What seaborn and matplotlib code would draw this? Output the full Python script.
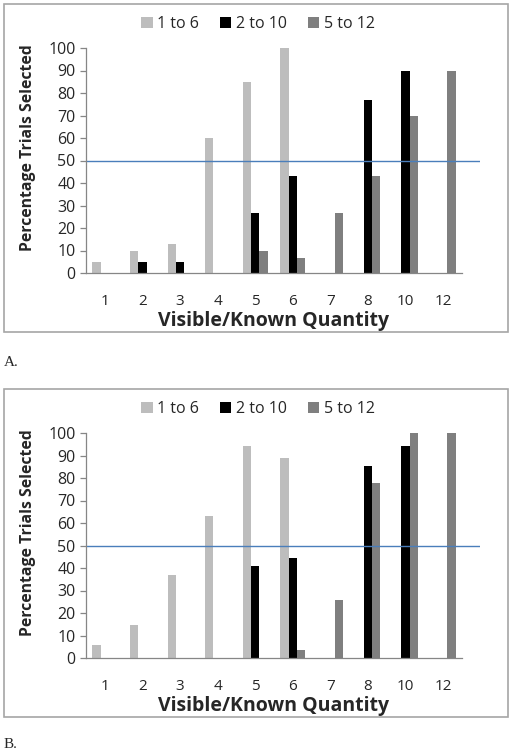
import numpy as np
import pandas as pd
import matplotlib
matplotlib.use("Agg")
import matplotlib.pyplot as plt
from matplotlib.patches import Rectangle
import seaborn as sns

# Quantities on the x axis and the three set-size ranges
quantities = ["1", "2", "3", "4", "5", "6", "7", "8", "10", "12"]
ranges = ["1 to 6", "2 to 10", "5 to 12"]

# Panel A: percentage of trials selected
a_1to6 = [5, 10, 13, 60, 85, 100, 0, 0, 0, 0]
a_2to10 = [0, 5, 5, 0, 26.7, 43.3, 0, 76.7, 90, 0]
a_5to12 = [0, 0, 0, 0, 10, 6.7, 26.7, 43.3, 70, 90]

# Panel B: percentage of trials selected
b_1to6 = [5.6, 14.8, 37, 63, 94.4, 89, 0, 0, 0, 0]
b_2to10 = [0, 0, 0, 0, 40.7, 44.4, 0, 85.2, 94.4, 0]
b_5to12 = [0, 0, 0, 0, 0, 3.7, 25.9, 77.8, 100, 100]

chance = 50
colors = ["#bdbdbd", "#000000", "#7f7f7f"]

W, H = 512, 755
fig = plt.figure(figsize=(W / 100, H / 100), dpi=100)
sns.set_style("white")
plt.rcParams["font.family"] = ["Open Sans", "DejaVu Sans"]


def long_table(series):
    rows = []
    for name, vals in zip(ranges, series):
        for q, v in zip(quantities, vals):
            rows.append({"qty": q, "pct": v, "range": name})
    return pd.DataFrame(rows)


def draw_panel(series, box_top, box_bottom, ax_top, ax_bottom, letter, letter_y):
    # outer box like the pasted Excel chart
    fig.patches.append(Rectangle((4 / W, 1 - box_bottom / H), 504 / W,
                                 (box_bottom - box_top) / H,
                                 transform=fig.transFigure, fill=False,
                                 edgecolor="#a6a6a6", linewidth=1.2))
    ax = fig.add_axes([86 / W, 1 - ax_bottom / H, 394 / W, (ax_bottom - ax_top) / H])
    df = long_table(series)
    sns.barplot(data=df, x="qty", y="pct", hue="range", order=quantities,
                hue_order=ranges, palette=colors, width=0.66, errorbar=None,
                linewidth=0, ax=ax)
    handles, labels = ax.get_legend_handles_labels()
    ax.get_legend().remove()

    ax.axhline(chance, color="#4a7ebb", linewidth=1.0)
    ax.set_xlim(-0.5, 9.98)
    ax.set_ylim(0, 100)
    ax.set_yticks(range(0, 101, 10))

    for s in ["top", "right"]:
        ax.spines[s].set_visible(False)
    for s in ["left", "bottom"]:
        ax.spines[s].set_color("#868686")
        ax.spines[s].set_linewidth(0.9)
    ax.spines["bottom"].set_bounds(-0.5, 9.5)

    ax.set_xticks(np.arange(-0.5, 10, 1), minor=True)
    ax.tick_params(axis="x", which="major", length=0, pad=15, labelsize=11)
    ax.tick_params(axis="x", which="minor", length=4, width=0.9,
                   color="#868686", direction="out")
    ax.tick_params(axis="y", length=4.5, width=0.9, color="#868686",
                   direction="out", pad=3, labelsize=11.5, left=True)
    ax.set_xlabel("")
    ax.set_ylabel("")

    fig.text(274 / W, 1 - (ax_bottom + 48) / H, "Visible/Known Quantity",
             ha="center", va="center", fontsize=14, fontweight="bold")
    fig.text(28 / W, 1 - (ax_top + 100) / H, "Percentage Trials Selected",
             ha="center", va="center", rotation=90, fontsize=11.3,
             fontweight="bold")
    fig.legend(handles, labels, loc="center", ncol=3, frameon=False,
               bbox_to_anchor=(258 / W, 1 - (ax_top - 24) / H),
               fontsize=11.5, handlelength=0.7, handleheight=0.7,
               handletextpad=0.3, columnspacing=1.3)
    fig.text(4 / W, 1 - letter_y / H, letter, ha="left", va="center",
             fontsize=11, family="Liberation Serif")
    return ax


draw_panel([a_1to6, a_2to10, a_5to12], 4, 332, 48, 273, "A.", 362)
draw_panel([b_1to6, b_2to10, b_5to12], 389, 717, 433, 658, "B.", 745)

fig.savefig("out.png", dpi=100)
